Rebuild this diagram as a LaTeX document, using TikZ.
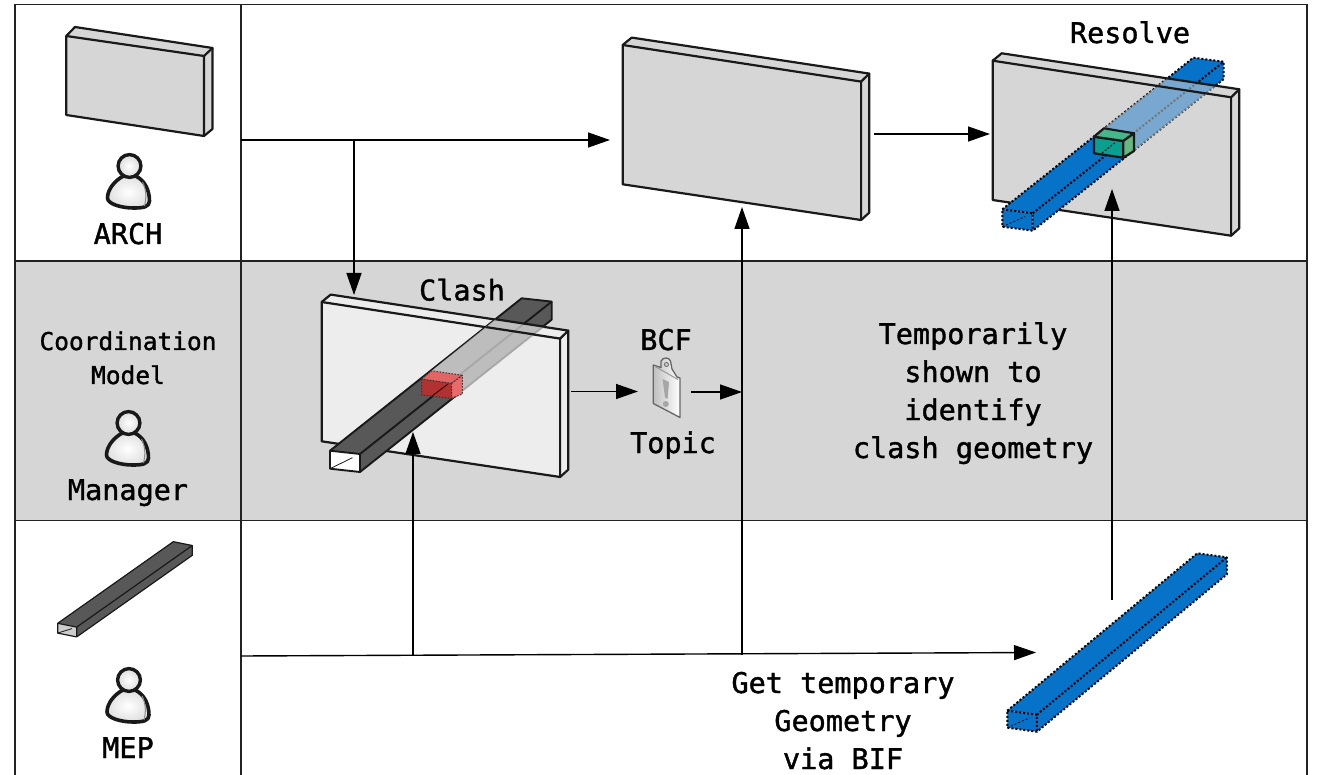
\documentclass[tikz,border=0pt]{standalone}
\usepackage{fontspec}
\setmainfont{DejaVu Sans Mono}
\newfontfamily\labelface[RawFeature={embolden=1.3}]{DejaVu Sans Mono}
\usetikzlibrary{arrows.meta,calc}
\definecolor{band}{HTML}{D6D6D6}
\definecolor{wallgrey}{HTML}{D6D6D6}
\definecolor{wallpale}{HTML}{EDEDED}
\definecolor{ductdark}{HTML}{585858}
\definecolor{ductblue}{HTML}{0672C8}
\definecolor{frameink}{HTML}{222222}
\definecolor{tealfront}{HTML}{0B9F8F}
\definecolor{tealtop}{HTML}{45B58A}
\definecolor{tealside}{HTML}{65B880}
\definecolor{redfront}{HTML}{B23232}
\definecolor{redtop}{HTML}{E26464}
\definecolor{redside}{HTML}{E86A6A}
\tikzset{
  frameline/.style={draw=frameink,line width=1.6pt},
  flow/.style={draw=black,line width=1.4pt,-{Triangle[length=22pt,width=15pt]}},
  bigtext/.style={font=\labelface\fontsize{28.5}{30}\selectfont,inner sep=0pt,anchor=base,text=black},
  smalltext/.style={font=\labelface\fontsize{24.5}{26}\selectfont,inner sep=0pt,anchor=base,text=black},
  wallline/.style={draw=black!90,line width=2.2pt,line join=round},
  solidduct/.style={draw=black!90,line width=1.9pt,line join=round},
  dotduct/.style={draw=black,line width=2pt,dash pattern=on 2pt off 2pt,line join=round},
}
% wall with explicit shift and fill
\newcommand{\wallshape}[2]{%
  \begin{scope}[shift={(#1)}]
    \path[fill=#2] (0,0) -- (238.4,36.6) -- (238.4,175) -- (0,139.3) -- cycle;
    \path[fill=#2] (0,0) -- (9,-7.4) -- (246.6,28.6) -- (238.4,36.6) -- cycle;
    \path[fill=#2] (238.4,36.6) -- (246.6,28.6) -- (246.6,167.6) -- (238.4,175) -- cycle;
    \draw[wallline] (0,0) -- (238.4,36.6) -- (238.4,175) -- (0,139.3) -- cycle;
    \draw[wallline] (0,0) -- (9,-7.4) -- (246.6,28.6) -- (238.4,36.6);
    \draw[wallline] (246.6,28.6) -- (246.6,167.6) -- (238.4,175);
  \end{scope}}
% duct: near-top-left, width vector, height vector, far vector, face colour, end colour, line style
\newcommand{\ductshape}[7]{%
  \coordinate (dA) at (#1);
  \coordinate (dB) at ($(dA)+(#2)$);
  \coordinate (dC) at ($(dB)+(#3)$);
  \coordinate (dD) at ($(dA)+(#3)$);
  \coordinate (dE) at ($(dA)+(#4)$);
  \coordinate (dF) at ($(dB)+(#4)$);
  \coordinate (dG) at ($(dC)+(#4)$);
  \path[fill=#6] (dA) -- (dB) -- (dC) -- (dD) -- cycle;
  \path[fill=#5] (dA) -- (dE) -- (dF) -- (dG) -- (dC) -- (dB) -- cycle;
  \draw[#7,line width=0.8pt] (dD) -- ($(dD)!0.75!(dB)$);
  \draw[#7] (dA) -- (dE) -- (dF) -- (dG) -- (dC) -- (dD) -- cycle;
  \draw[#7] (dA) -- (dB) -- (dC);
  \draw[#7] (dB) -- (dF);}
% person icon at head centre
\newcommand{\personicon}[1]{%
  \begin{scope}[shift={(#1)}]
    \draw[black!90,line width=3.6pt,line join=round,inner color=white,outer color=black!12]
      (-6,10) .. controls (-14,14) and (-22,23) .. (-22,32)
      .. controls (-22,38) and (-8,42) .. (4,42)
      .. controls (14,42) and (20,41) .. (20,35)
      .. controls (20,24) and (15,14) .. (6,10)
      -- cycle;
    \draw[black!45,line width=1pt] (13,16) .. controls (17,24) and (17,32) .. (15,40);
    \draw[black!90,line width=3.4pt,inner color=white,outer color=black!14] (0,0) circle[radius=11.4];
  \end{scope}}
\begin{document}
\begin{tikzpicture}[x=1pt,y=-1pt]
\useasboundingbox (0,0) rectangle (1317,775);
\fill[white] (0,0) rectangle (1317,775);
% band and frame
\fill[band] (15,261) rectangle (1307,520.5);
\coordinate (fTL) at (15,4.5);
\coordinate (fTR) at (1307,4.5);
\coordinate (fBL) at (15,775);
\coordinate (fBR) at (1307,775);
\draw[frameline] (fBL) -- (fTL) -- (fTR) -- (fBR);
\draw[frameline] (241,4.5) -- (241,775);
\draw[frameline] (15,261) -- (1307,261);
\draw[frameline] (15,520.5) -- (1307,520.5);

% connector junctions and ends
\coordinate (archOut) at (241,140);
\coordinate (archBranch) at (354,140);
\coordinate (clashIn) at (354,295);
\coordinate (midIn) at (610,140);
\coordinate (midOut) at (874,134);
\coordinate (resIn) at (990,134);
\coordinate (clashOut) at (571,391.5);
\coordinate (bcfIn) at (638,391.5);
\coordinate (bcfOut) at (691,392);
\coordinate (vertMeet) at (742,392);
\coordinate (mepOut) at (241,656);
\coordinate (mepBranch) at (413,655.7);
\coordinate (clashUp) at (413,432);
\coordinate (vertBase) at (742,654.8);
\coordinate (vertTop) at (742,207);
\coordinate (blueIn) at (1036,652.5);
\coordinate (blueOut) at (1112,600);
\coordinate (resUp) at (1112,189);

% small arch wall
\path[fill=wallgrey] (66.3,36) -- (75,27) -- (212.5,48) -- (212.5,129) -- (204,136) -- (66.3,115) -- cycle;
\draw[wallline] (66.3,36) -- (204,56) -- (204,136) -- (66.3,115) -- cycle;
\draw[wallline] (66.3,36) -- (75,27) -- (212.5,48) -- (204,56);
\draw[wallline] (212.5,48) -- (212.5,129) -- (204,136);
% middle wall
\wallshape{622.7,45}{wallgrey}

% resolve group
\wallshape{992.7,60.7}{wallgrey}
\ductshape{1002.3,209.3}{30.4,4}{0,17.4}{191,-151.6}{ductblue}{ductblue}{dotduct}
\begin{scope}
  \clip (1104,128.3) -- (1193.3,57.7) -- (1224,62.3) -- (1224,80) -- (1134,151) -- cycle;
  \fill[wallgrey,opacity=0.55] (992.7,60.7) -- (1001.7,53.3) -- (1239.3,89.3) -- (1231,97.3) -- (1231,235.7) -- (992.7,200) -- cycle;
  \draw[black!90,line width=2.2pt] (992.7,60.7) -- (1231,97.3);
  \draw[black!90,line width=2.2pt] (1001.7,53.3) -- (1239.3,89.3);
\end{scope}
\begin{scope}[draw=black!90,line width=2.2pt,line join=round]
  \filldraw[fill=tealfront] (1094,136.7) -- (1123.3,141) -- (1123.3,157.7) -- (1094,153.3) -- cycle;
  \filldraw[fill=tealtop] (1094,136.7) -- (1104,128.3) -- (1134,133.3) -- (1123.3,141) -- cycle;
  \filldraw[fill=tealside] (1123.3,141) -- (1134,133.3) -- (1134,151) -- (1123.3,157.7) -- cycle;
\end{scope}
\draw[black,line width=1pt,dash pattern=on 1.8pt off 1.8pt] (1102,153) -- (1116,142);

% clash group
\wallshape{321.7,302}{wallpale}
\ductshape{330,450.7}{30,3.3}{0,18}{191.7,-152.4}{ductdark}{white}{solidduct}
\begin{scope}
  \clip (431.7,370.7) -- (521.7,298.3) -- (551.7,302.7) -- (551.7,320.7) -- (462.3,394) -- cycle;
  \fill[wallpale,opacity=0.68] (321.7,302) -- (330.7,294) -- (567.7,330.3) -- (559.3,338.3) -- (559.3,476.7) -- (321.7,441) -- cycle;
  \draw[black!90,line width=2.2pt] (321.7,302) -- (559.3,338.3);
  \draw[black!90,line width=2.2pt] (330.7,294) -- (567.7,330.3);
\end{scope}
\begin{scope}[draw=black!80,line width=1pt,dash pattern=on 1.5pt off 1.5pt,line join=round]
  \filldraw[fill=redfront] (421.7,379) -- (451.7,383.3) -- (451.7,398.3) -- (421.7,395) -- cycle;
  \filldraw[fill=redtop] (421.7,379) -- (431.7,370.7) -- (462.3,375.3) -- (451.7,383.3) -- cycle;
  \filldraw[fill=redside] (451.7,383.3) -- (462.3,375.3) -- (462.3,394) -- (451.7,398.3) -- cycle;
\end{scope}
\draw[black!75!red,line width=1pt] (432,396) -- (448,384);

% standalone ducts
\ductshape{57.7,623.3}{19,3.8}{0,9.8}{115.6,-81.6}{ductdark}{white!80!black}{draw=black!90,line width=1.2pt,line join=round}
\ductshape{1007.3,710.7}{29.6,4}{0,17}{190,-157.4}{ductblue}{ductblue}{dotduct}

% people
\personicon{129.5,166}
\personicon{128.5,423}
\personicon{129,680}

% BCF clipboard icon
\begin{scope}
  \draw[black!60,line width=1.3pt,left color=black!25,right color=white,line join=round]
    (653.3,365) -- (661,367.5) -- (661,361) .. controls (663,357) and (669,357) .. (670.5,361)
    -- (672,369) -- (677,377) -- (680,378) -- (680,417.5) -- (653.3,403.5) -- cycle;
  \draw[black!40,line width=1pt] (655,366.5) -- (678,379.5);
  \fill[black!35] (662.5,379) -- (669,382) -- (667.5,399) -- (665,397.5) -- cycle;
  \fill[black!35] (665.8,404) circle[radius=3];
\end{scope}
\draw[black!55,line width=1pt,fill=band] (666.5,364.5) circle[radius=2];

% connectors
\draw[flow] (archOut) -- (midIn);
\draw[flow] (archBranch) -- (clashIn);
\draw[flow] (midOut) -- (resIn);
\draw[flow] (clashOut) -- (bcfIn);
\draw[flow] (bcfOut) -- (vertMeet);
\draw[flow] (mepOut) -- (blueIn);
\draw[flow] (mepBranch) -- (clashUp);
\draw[flow] (vertBase) -- (vertTop);
\draw[flow] (blueOut) -- (resUp);

% labels
\node[bigtext] (lArch) at (128,244) {ARCH};
\node[smalltext] (lCoord) at (128,350) {Coordination};
\node[smalltext] (lModel) at (128,384) {Model};
\node[bigtext] (lMan) at (128,500) {Manager};
\node[bigtext] (lMep) at (128,758) {MEP};
\node[bigtext] (lClash) at (462,300.5) {Clash};
\node[bigtext] (lBcf) at (666,350) {BCF};
\node[bigtext] (lTopic) at (673,453) {Topic};
\node[bigtext] (lT1) at (973,344) {Temporarily};
\node[bigtext] (lT2) at (973,382) {shown to};
\node[bigtext] (lT3) at (973,420) {identify};
\node[bigtext] (lT4) at (973,458) {clash geometry};
\node[bigtext] (lG1) at (843,693) {Get temporary};
\node[bigtext] (lG2) at (843,731) {Geometry};
\node[bigtext] (lG3) at (843,769) {via BIF};
\node[bigtext] (lRes) at (1130,43) {Resolve};
\end{tikzpicture}
\end{document}
